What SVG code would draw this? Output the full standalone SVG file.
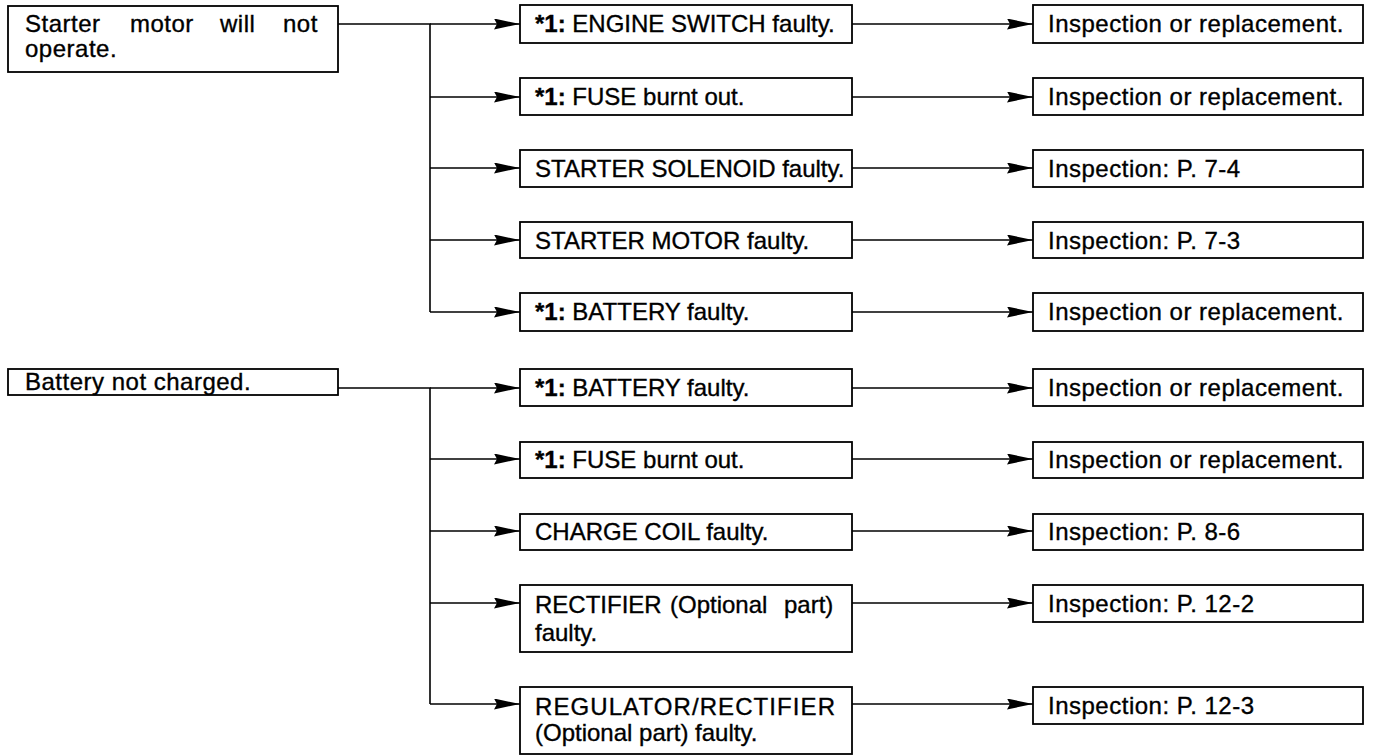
<svg xmlns="http://www.w3.org/2000/svg" width="1373" height="756" viewBox="0 0 1373 756">
<style>
.box{fill:#fff;stroke:#000;stroke-width:1.8}
.t{font-family:"Liberation Sans",Arial,sans-serif;font-size:24px;fill:#000;stroke:#000;stroke-width:0.35}
.w{letter-spacing:0.5px}
.b{font-weight:bold}
.c{fill:none;stroke:#000;stroke-width:1.6}
</style>
<defs>
<marker id="ah" markerUnits="userSpaceOnUse" markerWidth="28" markerHeight="12" refX="26" refY="5.5" orient="auto">
<path d="M0,0 L26,5.5 L0,11 L3,5.5 z" fill="#000"/>
</marker>
</defs>
<rect width="1373" height="756" fill="#fff"/>
<g id="connectors">
<path class="c" d="M338,24 H430 V312"/>
<line class="c" x1="430" y1="24" x2="520" y2="24" marker-end="url(#ah)"/>
<line class="c" x1="430" y1="97" x2="520" y2="97" marker-end="url(#ah)"/>
<line class="c" x1="430" y1="168" x2="520" y2="168" marker-end="url(#ah)"/>
<line class="c" x1="430" y1="240" x2="520" y2="240" marker-end="url(#ah)"/>
<line class="c" x1="430" y1="312" x2="520" y2="312" marker-end="url(#ah)"/>
<line class="c" x1="852" y1="24" x2="1033" y2="24" marker-end="url(#ah)"/>
<line class="c" x1="852" y1="97" x2="1033" y2="97" marker-end="url(#ah)"/>
<line class="c" x1="852" y1="168" x2="1033" y2="168" marker-end="url(#ah)"/>
<line class="c" x1="852" y1="240" x2="1033" y2="240" marker-end="url(#ah)"/>
<line class="c" x1="852" y1="312" x2="1033" y2="312" marker-end="url(#ah)"/>
<path class="c" d="M338,388 H430 V704"/>
<line class="c" x1="430" y1="388" x2="520" y2="388" marker-end="url(#ah)"/>
<line class="c" x1="430" y1="459" x2="520" y2="459" marker-end="url(#ah)"/>
<line class="c" x1="430" y1="531" x2="520" y2="531" marker-end="url(#ah)"/>
<line class="c" x1="430" y1="603" x2="520" y2="603" marker-end="url(#ah)"/>
<line class="c" x1="430" y1="704" x2="520" y2="704" marker-end="url(#ah)"/>
<line class="c" x1="852" y1="388" x2="1033" y2="388" marker-end="url(#ah)"/>
<line class="c" x1="852" y1="459" x2="1033" y2="459" marker-end="url(#ah)"/>
<line class="c" x1="852" y1="531" x2="1033" y2="531" marker-end="url(#ah)"/>
<line class="c" x1="852" y1="603" x2="1033" y2="603" marker-end="url(#ah)"/>
<line class="c" x1="852" y1="704" x2="1033" y2="704" marker-end="url(#ah)"/>
</g>
<g id="n-starter">
<rect class="box" x="8" y="6" width="330" height="66"/>
<text class="t w" y="32"><tspan x="25">Starter</tspan><tspan x="130">motor</tspan><tspan x="220">will</tspan><tspan x="283">not</tspan></text>
<text class="t w" x="25" y="57">operate.</text>
</g>
<g id="n-engine-switch">
<rect class="box" x="520" y="5" width="332" height="38"/>
<text class="t" x="535" y="32"><tspan class="b">*1:</tspan> ENGINE SWITCH faulty.</text>
</g>
<g id="n-fuse1">
<rect class="box" x="520" y="78" width="332" height="37"/>
<text class="t" x="535" y="105"><tspan class="b">*1:</tspan> FUSE burnt out.</text>
</g>
<g id="n-solenoid">
<rect class="box" x="520" y="150" width="332" height="37"/>
<text class="t" x="535" y="177">STARTER SOLENOID faulty.</text>
</g>
<g id="n-motor">
<rect class="box" x="520" y="222" width="332" height="36"/>
<text class="t" x="535" y="249">STARTER MOTOR faulty.</text>
</g>
<g id="n-battery1">
<rect class="box" x="520" y="293" width="332" height="38"/>
<text class="t" x="535" y="320"><tspan class="b">*1:</tspan> BATTERY faulty.</text>
</g>
<g id="r1">
<rect class="box" x="1033" y="5" width="330" height="38"/>
<text class="t w" x="1048" y="32">Inspection or replacement.</text>
</g>
<g id="r2">
<rect class="box" x="1033" y="78" width="330" height="37"/>
<text class="t w" x="1048" y="105">Inspection or replacement.</text>
</g>
<g id="r3">
<rect class="box" x="1033" y="150" width="330" height="37"/>
<text class="t w" x="1048" y="177">Inspection: P. 7-4</text>
</g>
<g id="r4">
<rect class="box" x="1033" y="222" width="330" height="36"/>
<text class="t w" x="1048" y="249">Inspection: P. 7-3</text>
</g>
<g id="r5">
<rect class="box" x="1033" y="293" width="330" height="38"/>
<text class="t w" x="1048" y="320">Inspection or replacement.</text>
</g>
<g id="n-battery-not-charged">
<rect class="box" x="8" y="369" width="330" height="26"/>
<text class="t w" x="25" y="390">Battery not charged.</text>
</g>
<g id="n-battery2">
<rect class="box" x="520" y="369" width="332" height="37"/>
<text class="t" x="535" y="396"><tspan class="b">*1:</tspan> BATTERY faulty.</text>
</g>
<g id="n-fuse2">
<rect class="box" x="520" y="442" width="332" height="36"/>
<text class="t" x="535" y="468"><tspan class="b">*1:</tspan> FUSE burnt out.</text>
</g>
<g id="n-charge-coil">
<rect class="box" x="520" y="514" width="332" height="36"/>
<text class="t" x="535" y="540">CHARGE COIL faulty.</text>
</g>
<g id="n-rectifier">
<rect class="box" x="520" y="585" width="332" height="67"/>
<text class="t" y="613"><tspan x="535">RECTIFIER</tspan><tspan x="670">(Optional</tspan><tspan x="784">part)</tspan></text>
<text class="t" x="535" y="641">faulty.</text>
</g>
<g id="n-regulator">
<rect class="box" x="520" y="687" width="332" height="67"/>
<text class="t" x="535" y="715" textLength="300" lengthAdjust="spacing">REGULATOR/RECTIFIER</text>
<text class="t" x="535" y="741">(Optional part) faulty.</text>
</g>
<g id="r6">
<rect class="box" x="1033" y="369" width="330" height="37"/>
<text class="t w" x="1048" y="396">Inspection or replacement.</text>
</g>
<g id="r7">
<rect class="box" x="1033" y="442" width="330" height="36"/>
<text class="t w" x="1048" y="468">Inspection or replacement.</text>
</g>
<g id="r8">
<rect class="box" x="1033" y="514" width="330" height="36"/>
<text class="t w" x="1048" y="540">Inspection: P. 8-6</text>
</g>
<g id="r9">
<rect class="box" x="1033" y="585" width="330" height="37"/>
<text class="t w" x="1048" y="612">Inspection: P. 12-2</text>
</g>
<g id="r10">
<rect class="box" x="1033" y="687" width="330" height="37"/>
<text class="t w" x="1048" y="714">Inspection: P. 12-3</text>
</g>
</svg>
